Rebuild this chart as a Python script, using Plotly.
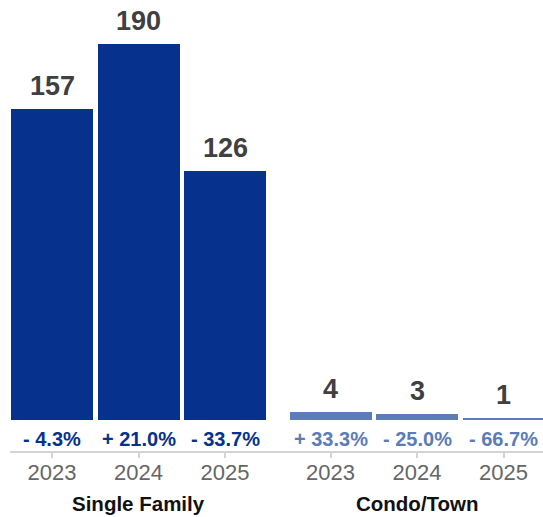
import plotly.graph_objects as go

groups = ["Single Family", "Condo/Town"]
years = ["2023", "2024", "2025"]
values = {
    "Single Family": [157, 190, 126],
    "Condo/Town": [4, 3, 1],
}
changes = {
    "Single Family": ["- 4.3%", "+ 21.0%", "- 33.7%"],
    "Condo/Town": ["+ 33.3%", "- 25.0%", "- 66.7%"],
}
colors = {"Single Family": "#06318C", "Condo/Town": "#5B7CB8"}

FONT = "Liberation Sans, Arial, Helvetica, sans-serif"
GROUP_GAP = 0.22

fig = go.Figure()
annotations = []
tickvals, ticktext = [], []

for gi, g in enumerate(groups):
    xs = [gi * (len(years) + GROUP_GAP) + i for i in range(len(years))]
    fig.add_trace(go.Bar(
        x=xs, y=values[g], width=0.948,
        marker=dict(color=colors[g], line=dict(width=0)),
        hoverinfo="skip", showlegend=False,
    ))
    for x, v, c in zip(xs, values[g], changes[g]):
        annotations.append(dict(
            x=x, y=v, xref="x", yref="y", text=f"<b>{v}</b>",
            showarrow=False, yanchor="middle", yshift=23,
            font=dict(family=FONT, size=27, color="#404040"),
        ))
        annotations.append(dict(
            x=x, y=0, xref="x", yref="y", text=f"<b>{c}</b>",
            showarrow=False, yanchor="middle", yshift=-19,
            font=dict(family=FONT, size=20, color=colors[g]),
        ))
    tickvals += xs
    ticktext += years
    annotations.append(dict(
        x=xs[1], y=0, xref="x", yref="paper", text=f"<b>{g}</b>",
        showarrow=False, yanchor="middle", yshift=-52,
        font=dict(family=FONT, size=20.5, color="#111111"),
    ))

fig.update_layout(
    width=543, height=517,
    margin=dict(l=10, r=0, t=0, b=66),
    paper_bgcolor="white", plot_bgcolor="white",
    bargap=0,
    annotations=annotations,
    xaxis=dict(
        range=[-0.4856, 5.676],
        tickvals=tickvals, ticktext=ticktext,
        showline=True, linecolor="#D3D3D3", linewidth=2,
        ticks="outside", ticklen=5, tickcolor="#D3D3D3", tickwidth=2,
        ticklabelstandoff=-4,
        tickfont=dict(family=FONT, size=22, color="#666666"),
        showgrid=False, zeroline=False,
    ),
    yaxis=dict(
        range=[-15.7, 212.2], visible=False,
        showgrid=False, zeroline=False,
    ),
)

fig.write_html("out.html")
